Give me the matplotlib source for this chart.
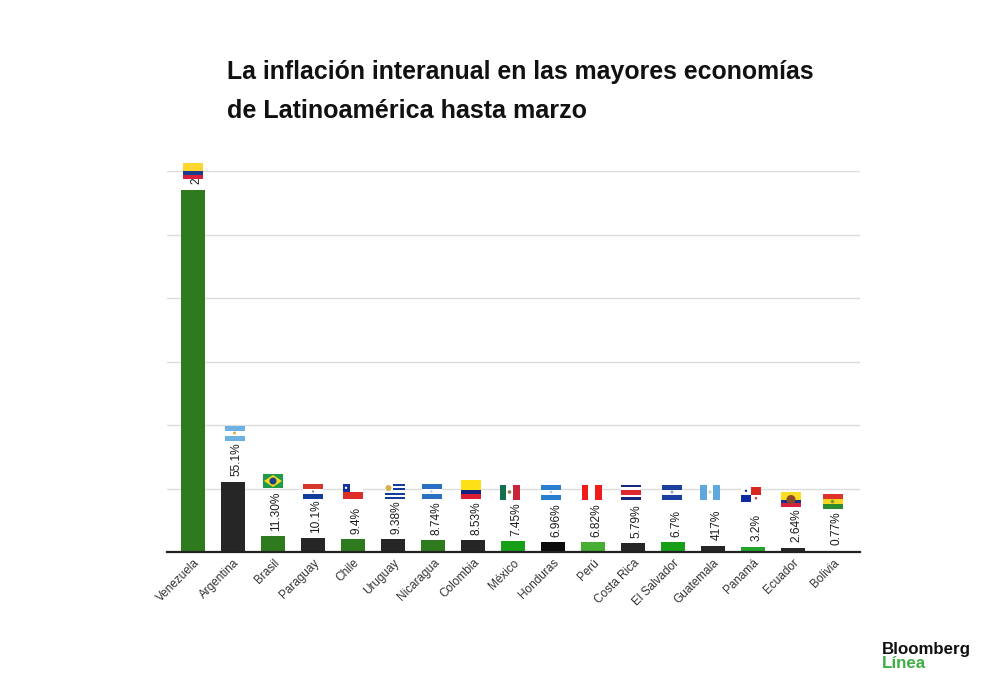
import matplotlib
matplotlib.use('Agg')
import matplotlib.pyplot as plt
from matplotlib.patches import Rectangle, Polygon, Circle

plt.rcParams['font.family'] = ['Liberation Sans', 'DejaVu Sans']

# data
countries = ['Venezuela', 'Argentina', 'Brasil', 'Paraguay', 'Chile', 'Uruguay',
             'Nicaragua', 'Colombia', 'México', 'Honduras', 'Perú', 'Costa Rica',
             'El Salvador', 'Guatemala', 'Panamá', 'Ecuador', 'Bolivia']
values = [285, 55.5, 12.4, 10.8, 10.1, 10.1, 9.4, 9.2, 8.6, 7.8, 7.7, 6.9,
          7.7, 5.0, 4.0, 3.3, 0.9]
labels = ['2', '55.1%', '11.30%', '10.1%', '9.4%', '9.38%', '8.74%', '8.53%',
          '7.45%', '6.96%', '6.82%', '5.79%', '6.7%', '417%', '3.2%', '2.64%', '0.77%']
yticks = [0, 50, 100, 150, 200, 250, 300]

G = '#2e7b1f'
K = '#262626'
bar_colors = [G, K, G, K, G, K, G, K, '#17a017', '#0b0b0b', '#45ae33', K,
              '#17a017', K, '#22a52a', K, K]

# flag centres in pixels of the image
flag_x = [193, 234.5, 273, 313, 352.5, 394.5, 431.5, 471, 509.5, 551, 591.7, 631,
          672, 710, 751, 791, 832.5]
flag_y = [171, 433, 481, 491.5, 491.5, 491.5, 491.5, 489.5, 492, 492, 492, 492, 492,
          492, 494.5, 499.5, 501.5]
flag_h = [16, 15, 14, 15, 15, 15, 15, 19, 15, 15, 15, 15, 15, 15, 15, 15, 15]

SKY = '#6db0e2'
WH = '#ffffff'
flags = [
    ('h', [('#fcd52e', 2), ('#1c3a8c', 1), ('#d8203a', 1)]),
    ('h', [(SKY, 1), (WH, 1), (SKY, 1)]),
    ('h', [('#1f9a48', 1)]),
    ('h', [('#d7362c', 1), (WH, 1), ('#123c9c', 1)]),
    ('h', [(WH, 1), ('#dc2f2a', 1)]),
    ('h', [('#123c9c', 1), (WH, 1), ('#123c9c', 1), (WH, 1), ('#123c9c', 1), (WH, 1), ('#123c9c', 1)]),
    ('h', [('#2a70c2', 1), (WH, 1), ('#2a70c2', 1)]),
    ('h', [('#fde016', 2), ('#14237e', 1), ('#dc1c30', 1)]),
    ('v', [('#12704a', 1), (WH, 1), ('#c8243c', 1)]),
    ('h', [('#2a7ed0', 1), (WH, 1), ('#2a7ed0', 1)]),
    ('v', [('#f01c1c', 1), (WH, 1), ('#f01c1c', 1)]),
    ('h', [('#14287e', 1), (WH, 1), ('#dc2a30', 2), (WH, 1), ('#14287e', 1)]),
    ('h', [('#1a3f9e', 1), (WH, 1), ('#1a3f9e', 1)]),
    ('v', [('#5ea8de', 1), (WH, 1), ('#5ea8de', 1)]),
    ('h', [(WH, 1)]),
    ('h', [('#fcdc1e', 2), ('#1c2f8c', 1), ('#d8203a', 1)]),
    ('h', [('#e0322c', 1), ('#f4d71e', 1), ('#2a8c2e', 1)]),
]

fig = plt.figure(figsize=(10, 6.83), dpi=100, facecolor='white')
W, H = 1000, 683

# chart area in pixels
left, right, top, bottom = 167, 860, 171, 552
ax = fig.add_axes([left / W, 1 - bottom / H, (right - left) / W, (bottom - top) / H])
ax.set_xlim(-0.65, 16.675)
ax.set_ylim(0, 300)

ax.bar(range(len(values)), values, width=0.61, color=bar_colors, zorder=2)

ax.set_yticks(yticks)
ax.set_yticklabels([])
ax.grid(axis='y', color='#dcdcdc', lw=1.0, zorder=0)
ax.tick_params(axis='y', length=0)
ax.tick_params(axis='x', length=0, pad=3.5)
ax.set_xticks(range(len(countries)))
ax.set_xticklabels(countries, rotation=45, ha='right', va='top', rotation_mode='anchor',
                   fontsize=8.5, color='#333333')
for sp in ['top', 'left', 'right']:
    ax.spines[sp].set_visible(False)
ax.spines['bottom'].set_color('#222222')
ax.spines['bottom'].set_linewidth(1.6)
ax.spines['bottom'].set_zorder(3)

for i, (v, lab) in enumerate(zip(values, labels)):
    ax.annotate(lab, (i, v), xytext=(2.5, 4), textcoords='offset points', rotation=90,
                ha='center', va='bottom', fontsize=8.6, color='#1c1c1c',
                annotation_clip=False)

# overlay in pixel coordinates for flags, title and logo
ov = fig.add_axes([0, 0, 1, 1], facecolor='none')
ov.set_xlim(0, W)
ov.set_ylim(H, 0)
ov.axis('off')


def draw_flag(cx, cy, h, spec):
    w = 20
    x0, y0 = cx - w / 2, cy - h / 2
    kind, stripes = spec
    total = sum(s[1] for s in stripes)
    pos = 0
    for col, n in stripes:
        if kind == 'h':
            ov.add_patch(Rectangle((x0, y0 + h * pos / total), w, h * n / total, fc=col, ec='none'))
        else:
            ov.add_patch(Rectangle((x0 + w * pos / total, y0), w * n / total, h, fc=col, ec='none'))
        pos += n


for cx, cy, h, spec in zip(flag_x, flag_y, flag_h, flags):
    draw_flag(cx, cy, h, spec)

# emblems on top of the stripes
ov.add_patch(Circle((flag_x[1], flag_y[1]), 1.5, fc='#e0b040', ec='none'))
cx, cy = flag_x[2], flag_y[2]
ov.add_patch(Polygon([(cx - 9, cy), (cx, cy - 6), (cx + 9, cy), (cx, cy + 6)], fc='#f2d81e', ec='none'))
ov.add_patch(Circle((cx, cy), 3.5, fc='#1c3f8c', ec='none'))
ov.add_patch(Circle((flag_x[3], flag_y[3]), 1, fc='#777777', ec='none'))
cx, cy = flag_x[4], flag_y[4]
ov.add_patch(Rectangle((cx - 10, cy - 7.5), 7, 7.5, fc='#12309a', ec='none'))
ov.add_patch(Circle((cx - 6.5, cy - 3.7), 1.2, fc='white', ec='none'))
cx, cy = flag_x[5], flag_y[5]
ov.add_patch(Rectangle((cx - 10, cy - 7.5), 8, 8, fc='white', ec='none'))
ov.add_patch(Circle((cx - 6, cy - 3.5), 3, fc='#d8b04a', ec='none'))
ov.add_patch(Circle((flag_x[6], flag_y[6]), 1, fc='#a8c4e0', ec='none'))
ov.add_patch(Circle((flag_x[8], flag_y[8]), 1.8, fc='#8a7a50', ec='none'))
ov.add_patch(Circle((flag_x[9], flag_y[9]), 1.2, fc='#a8c4e0', ec='none'))
ov.add_patch(Circle((flag_x[12], flag_y[12]), 1.5, fc='#8aa8c8', ec='none'))
ov.add_patch(Circle((flag_x[13], flag_y[13]), 1.6, fc='#c8d8b0', ec='none'))
cx, cy = flag_x[14], flag_y[14]
ov.add_patch(Rectangle((cx, cy - 7.5), 10, 7.5, fc='#d9261f', ec='none'))
ov.add_patch(Rectangle((cx - 10, cy), 10, 7.5, fc='#0f2aa0', ec='none'))
ov.add_patch(Circle((cx - 5, cy - 3.7), 1.2, fc='#0f2aa0', ec='none'))
ov.add_patch(Circle((cx + 5, cy + 3.7), 1.2, fc='#d9261f', ec='none'))
ov.add_patch(Circle((flag_x[15], flag_y[15]), 4.5, fc='#8a4a2a', ec='none'))
ov.add_patch(Circle((flag_x[16], flag_y[16]), 1.8, fc='#7a9a30', ec='none'))

ov.text(227, 78.5, 'La inflación interanual en las mayores economías', fontsize=17.9,
        fontweight='bold', color='#111111', ha='left', va='baseline')
ov.text(227, 118, 'de Latinoamérica hasta marzo', fontsize=18.1,
        fontweight='bold', color='#111111', ha='left', va='baseline')

ov.text(882, 654, 'Bloomberg', fontsize=12.2, fontweight='bold', color='#111111', ha='left', va='baseline')
ov.text(882, 668, 'Línea', fontsize=12.2, fontweight='bold', color='#3fae45', ha='left', va='baseline')

fig.savefig('out.png', dpi=100)
